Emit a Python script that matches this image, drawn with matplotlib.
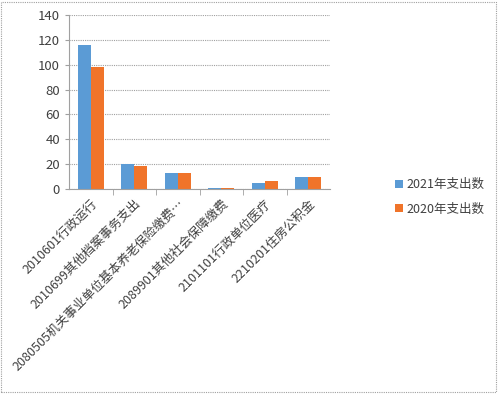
import numpy as np
import matplotlib
matplotlib.use('Agg')
from matplotlib import pyplot as plt
from matplotlib.patches import Rectangle

plt.rcParams['font.family'] = ['Noto Sans CJK SC', 'DejaVu Sans']

categories = ['2010601行政运行', '2010699其他档案事务支出', '2080505机关事业单位基本养老保险缴费…',
              '2089901其他社会保障缴费', '2101101行政单位医疗', '2210201住房公积金']
spend_2021 = [115.9, 20.1, 13.1, 0.8, 5.1, 9.4]
spend_2020 = [98.2, 18.7, 13.1, 0.8, 6.2, 9.9]
series_names = ['2021年支出数', '2020年支出数']

fig = plt.figure(figsize=(4.99, 3.94), dpi=100)
ax = fig.add_axes([69 / 499, 1 - 189 / 394, (330 - 69) / 499, (189 - 15) / 394])

x = np.arange(len(categories))
w = 0.3
b1 = ax.bar(x - w / 2, spend_2021, w, color='#5b9bd5', label=series_names[0])
b2 = ax.bar(x + w / 2, spend_2020, w, color='#f0742a', label=series_names[1])

ax.set_xlim(-0.5, len(categories) - 0.5)
ax.set_ylim(0, 140)
ax.set_yticks(range(0, 141, 20))
ax.yaxis.grid(True, color='#a0a0a0', linestyle=(0, (1, 1)), linewidth=0.8)
ax.set_axisbelow(True)
for s in ['top', 'right']:
    ax.spines[s].set_visible(False)
ax.spines['left'].set_color('#a0a0a0')
ax.spines['bottom'].set_color('#a0a0a0')
ax.spines['left'].set_linestyle((0, (1, 1)))
ax.spines['bottom'].set_linestyle((0, (1, 1)))
ax.tick_params(axis='y', labelsize=9.5, length=3, colors='#a0a0a0', labelcolor='#404040')

ax.set_xticks(x)
ax.set_xticklabels(categories, rotation=45, ha='right', va='top', rotation_mode='anchor',
                   fontsize=9, color='#404040')
ax.tick_params(axis='x', length=0, pad=6)
ax.set_xticks(np.arange(0.5, len(categories) - 0.5), minor=True)
ax.tick_params(axis='x', which='minor', length=4, color='#a0a0a0')

fig.legend(handles=[b1, b2], labels=series_names, loc='upper left',
           bbox_to_anchor=(384 / 499, 1 - 167 / 394), frameon=False,
           fontsize=9, handlelength=0.6, handleheight=0.6, handletextpad=0.3,
           labelspacing=0.9, labelcolor='#404040')

fig.patches.append(Rectangle((0.003, 0.004), 0.991, 0.992, transform=fig.transFigure,
                             fill=False, edgecolor='#a0a0a0', linestyle=(0, (1, 1)),
                             linewidth=0.8))

fig.savefig('out.png', dpi=100)
